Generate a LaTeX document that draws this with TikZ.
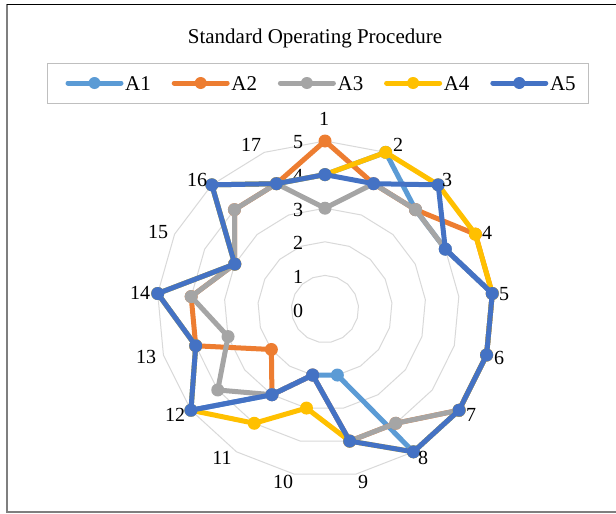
\documentclass[tikz,border=0pt]{standalone}
\usepackage{fontspec}
\setmainfont{Liberation Serif}
\definecolor{cA}{HTML}{5B9BD5}
\definecolor{cB}{HTML}{ED7D31}
\definecolor{cC}{HTML}{A5A5A5}
\definecolor{cD}{HTML}{FFC000}
\definecolor{cE}{HTML}{4472C4}
\definecolor{gridgray}{HTML}{D9D9D9}
\definecolor{framegray}{HTML}{7F7F7F}
\definecolor{legendgray}{HTML}{BFBFBF}
\begin{document}
\begin{tikzpicture}[x=1pt,y=1pt,
  gridline/.style={draw=gridgray, line width=1pt, line join=miter},
  serline/.style={line width=5pt, line join=round, line cap=round},
  marker/.style={circle, inner sep=0pt, minimum size=13pt},
  lgmarker/.style={circle, inner sep=0pt, minimum size=12pt},
  cattext/.style={inner sep=0pt, font=\fontsize{20}{24}\selectfont},
  valtext/.style={inner sep=0pt, font=\fontsize{20}{24}\selectfont},
  lgtext/.style={inner sep=0pt, anchor=west, font=\fontsize{21}{25}\selectfont},
  titletext/.style={inner sep=0pt, font=\fontsize{21}{25}\selectfont}]
\useasboundingbox (0,0) rectangle (616,-514);
\fill[white] (0,0) rectangle (616,-514);
% frame
\coordinate (ftl) at (6.5,-4);
\coordinate (fbl) at (6.5,-512);
\coordinate (fbr) at (620,-512);
\coordinate (ftr) at (620,-4);
\draw[framegray, line width=2pt] (ftl) -- (fbl) -- (fbr);
\draw[black, line width=1pt] (ftl) -- (ftr);
% title
\node[titletext] (title) at (315,-38) {Standard Operating Procedure};
% legend
\node[draw=legendgray, line width=1pt, minimum width=541pt, minimum height=40pt, inner sep=0pt] (legend) at (317.5,-83) {};
\foreach \n/\col/\xs in {1/cA/68, 2/cB/174.2, 3/cC/280.4, 4/cD/386.6, 5/cE/492.8} {
  \coordinate (la\n) at (\xs,-83);
  \coordinate (lb\n) at (\xs+53,-83);
  \draw[\col, line width=5pt, line cap=round] (la\n) -- (lb\n);
  \node[lgmarker, fill=\col] (lm\n) at (\xs+26.5,-83) {};
  \node[lgtext] (lt\n) at (\xs+57,-84) {A\n};
}
% radar
\begin{scope}[shift={(325,-309)}]
  \foreach \k in {1,...,5} {
    \draw[gridline] (90:\k*33.6pt) \foreach \i in {1,...,16} { -- ({90-\i*21.17647}:\k*33.6pt) } -- cycle;
  }
  \foreach \k in {0,...,5} {
    \node[valtext] (v\k) at (-27,{-1.5+\k*33.6}) {\k};
  }
  \foreach \s/\col/\vals in {
      1/cA/{4,5,4,4,5,5,5,5,2,2,3,5,4,5,3,5,4},
      2/cB/{5,4,4,5,5,5,5,4,4,2,3,2,4,4,3,4,4},
      3/cC/{3,4,4,4,5,5,5,4,4,2,3,4,3,4,3,4,4},
      4/cD/{4,5,5,5,5,5,5,5,4,3,4,5,4,5,3,5,4},
      5/cE/{4,4,5,4,5,5,5,5,4,2,3,5,4,5,3,5,4}} {
    \foreach \v [count=\i] in \vals {
      \coordinate (s\s-\i) at ({90-(\i-1)*21.17647}:\v*33.6pt);
    }
    \draw[serline, \col] (s\s-1) \foreach \i in {2,...,17} { -- (s\s-\i) } -- cycle;
    \foreach \i in {1,...,17} {
      \node[marker, fill=\col] (m\s-\i) at (s\s-\i) {};
    }
  }
\end{scope}
% category labels
\foreach \t/\px/\py in {1/324/119, 2/398/145, 3/447/180, 4/487/233, 5/504/294,
   6/499/358, 7/471/415, 8/423/458, 9/363/482, 10/283/482, 11/222/458,
   12/175/415, 13/146/357, 14/140/293, 15/158/232, 16/197/180, 17/251/145} {
  \node[cattext] (c\t) at (\px,-\py) {\t};
}
\end{tikzpicture}
\end{document}
